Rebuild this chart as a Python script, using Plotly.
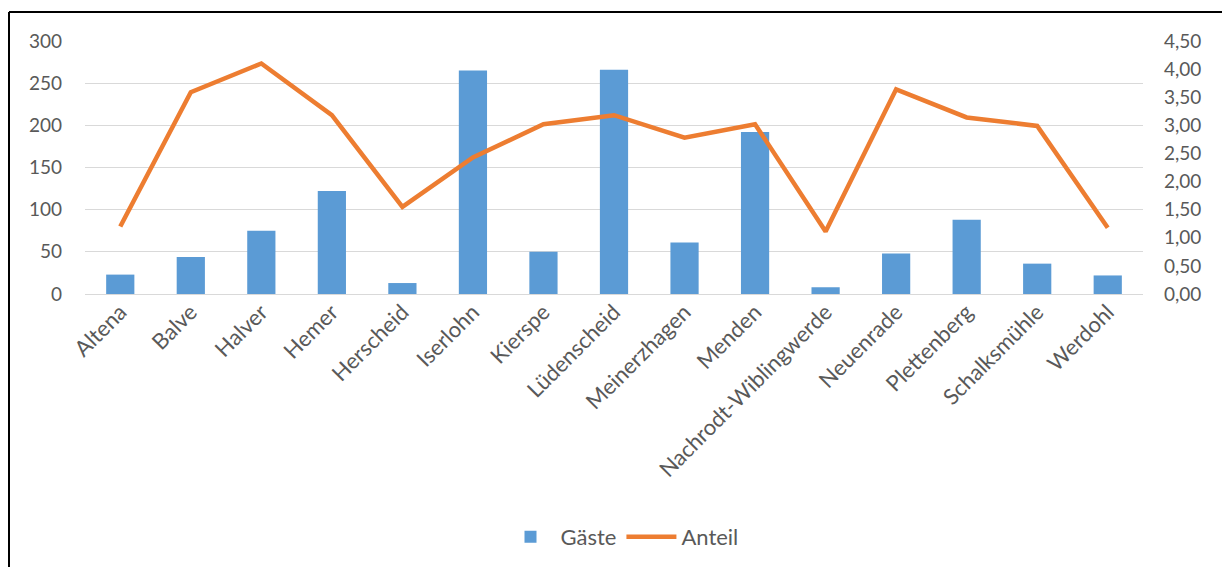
import plotly.graph_objects as go

categories = ["Altena", "Balve", "Halver", "Hemer", "Herscheid", "Iserlohn", "Kierspe",
              "Lüdenscheid", "Meinerzhagen", "Menden", "Nachrodt-Wiblingwerde",
              "Neuenrade", "Plettenberg", "Schalksmühle", "Werdohl"]
gaeste = [23, 44, 75, 122, 13, 265, 50, 266, 61, 192, 8, 48, 88, 36, 22]
anteil = [1.20, 3.59, 4.10, 3.18, 1.55, 2.43, 3.02, 3.18, 2.78, 3.02, 1.11, 3.64, 3.14, 2.99, 1.18]

W, H = 1222, 569
L, R, T, B = 85, 1143, 41, 295

def px(x):
    return (x - L) / (R - L)

def py(y):
    return (B - y) / (B - T)

font = dict(family="Lato, 'Open Sans', sans-serif", size=18, color="#595959")

fig = go.Figure()
fig.add_trace(go.Bar(x=categories, y=gaeste, name="Gäste", marker_color="#5B9BD5",
                     marker_line_width=0))
fig.add_trace(go.Scatter(x=categories, y=anteil, name="Anteil", yaxis="y2", mode="lines",
                         line=dict(color="#ED7D31", width=4.5)))

fig.update_layout(
    width=W, height=H,
    margin=dict(l=L, r=W - R, t=T, b=H - B, pad=0),
    paper_bgcolor="white", plot_bgcolor="white",
    font=font,
    separators=",.",
    bargap=0.6,
    showlegend=True,
    legend=dict(orientation="h", x=px(622), xanchor="center", y=py(537), yanchor="middle",
                font=dict(size=22, color="#595959"), itemwidth=50, tracegroupgap=0),
    xaxis=dict(tickangle=-45, showgrid=False, showline=False, ticks="",
               tickfont=dict(size=22, color="#595959")),
    yaxis=dict(range=[0, 300], dtick=50, showgrid=True, gridcolor="#D9D9D9", gridwidth=1.3,
               zeroline=True, zerolinecolor="#D9D9D9", zerolinewidth=1.3,
               ticks="", ticklabelstandoff=22, tickfont=dict(size=19, color="#595959")),
    yaxis2=dict(range=[0, 4.5], dtick=0.5, tickformat=".2f", overlaying="y", side="right",
                showgrid=False, zeroline=False, ticks="", ticklabelstandoff=20,
                tickfont=dict(size=19, color="#595959")),
    shapes=[
        dict(type="line", xref="paper", yref="paper", x0=px(9), x1=px(1222), y0=py(12), y1=py(12),
             line=dict(color="black", width=2)),
        dict(type="line", xref="paper", yref="paper", x0=px(9), x1=px(9), y0=py(12), y1=py(569),
             line=dict(color="black", width=2)),
    ],
)

fig.write_html("out.html")
